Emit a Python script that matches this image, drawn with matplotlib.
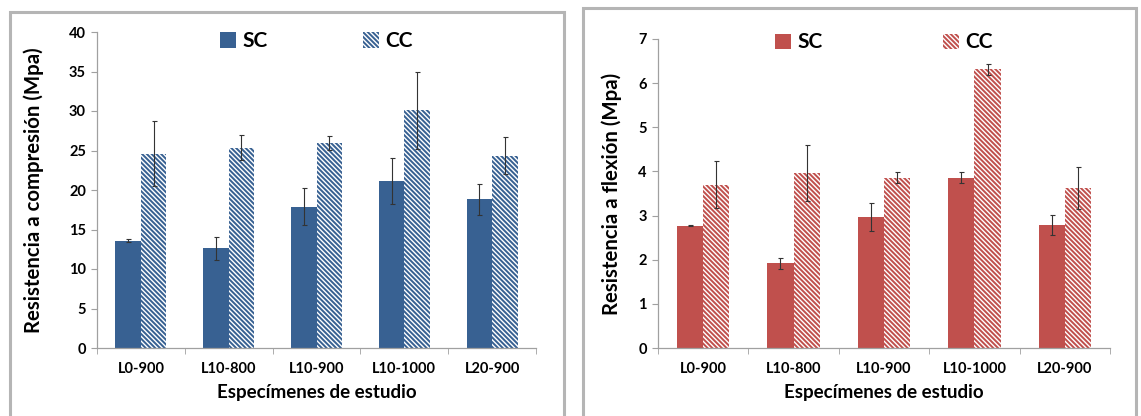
import numpy as np
import matplotlib
matplotlib.use('Agg')
from matplotlib import pyplot as plt
from matplotlib.patches import Rectangle, Patch

plt.rcParams['font.family'] = ['Lato', 'DejaVu Sans']
plt.rcParams['font.weight'] = 'bold'
plt.rcParams['axes.labelweight'] = 'bold'
plt.rcParams['hatch.linewidth'] = 1.0

especimenes = ['L0-900', 'L10-800', 'L10-900', 'L10-1000', 'L20-900']

# compresión (Mpa)
comp_sc = [13.6, 12.65, 17.9, 21.1, 18.8]
comp_sc_err = [0.15, 1.45, 2.35, 2.9, 1.95]
comp_cc = [24.6, 25.35, 25.95, 30.1, 24.35]
comp_cc_err = [4.1, 1.55, 0.9, 4.85, 2.3]

# flexión (Mpa)
flex_sc = [2.77, 1.92, 2.96, 3.86, 2.79]
flex_sc_err = [0.01, 0.12, 0.32, 0.13, 0.23]
flex_cc = [3.70, 3.97, 3.86, 6.31, 3.63]
flex_cc_err = [0.53, 0.64, 0.13, 0.12, 0.48]

azul = '#386192'
rojo = '#C0504D'
rayado = '\\' * 7

fig = plt.figure(figsize=(11.41, 4.16), dpi=100)

# marcos grises de cada panel
for x0, y0, x1 in [(9.5, 11.5, 564), (582.5, 7.5, 1136)]:
    fig.add_artist(Rectangle((x0 / 1141, -0.05), (x1 - x0) / 1141, 1.05 - y0 / 416,
                             transform=fig.transFigure, fill=False,
                             edgecolor='#b5b5b5', linewidth=2.2))

ax1 = fig.add_axes([97 / 1141, 68 / 416, 439 / 1141, 316 / 416])
ax2 = fig.add_axes([658 / 1141, 68 / 416, 452 / 1141, 309 / 416])


def grafico(ax, sc, sc_err, cc, cc_err, color, ymax, ylabel, ypad,
            colspace, ley_y):
    x = np.arange(len(especimenes))
    w = 0.29
    ax.bar(x - w / 2, sc, w, color=color, label='SC')
    ax.bar(x + w / 2, cc, w, color=color, edgecolor='white', linewidth=0,
           hatch=rayado, label='CC')
    ax.errorbar(x - w / 2, sc, yerr=sc_err, fmt='none', ecolor='#333333',
                elinewidth=0.8, capsize=1.8, capthick=0.8)
    ax.errorbar(x + w / 2, cc, yerr=cc_err, fmt='none', ecolor='#333333',
                elinewidth=0.8, capsize=1.8, capthick=0.8)

    ax.set_xlim(-0.5, len(especimenes) - 0.5)
    ax.set_ylim(0, ymax)
    ax.set_xticks(x)
    ax.set_xticklabels(especimenes, fontweight='bold')
    ax.set_xticks(np.arange(len(especimenes) + 1) - 0.5, minor=True)
    ax.tick_params(axis='x', which='major', length=0, pad=10, labelsize=10.5)
    ax.tick_params(axis='x', which='minor', length=4, color='#a0a0a0')
    ax.tick_params(axis='y', length=4, color='#a0a0a0', labelsize=10.5, pad=4)
    for t in ax.get_yticklabels():
        t.set_fontweight('bold')
    for s in ['top', 'right']:
        ax.spines[s].set_visible(False)
    for s in ['left', 'bottom']:
        ax.spines[s].set_color('#a0a0a0')
        ax.spines[s].set_linewidth(0.9)

    ax.set_xlabel('Especímenes de estudio', fontsize=13.5, fontweight='bold',
                  labelpad=6)
    ax.set_ylabel(ylabel, fontsize=14.7, fontweight='bold', labelpad=ypad)

    handles = [Patch(facecolor=color, label='SC'),
               Patch(facecolor=color, edgecolor='white', linewidth=0,
                     hatch=rayado, label='CC')]
    ax.legend(handles=handles, loc='upper center', bbox_to_anchor=(0.5, ley_y),
              ncol=2, frameon=False, prop={'size': 15, 'weight': 'bold'},
              handlelength=0.75, handleheight=0.75, handletextpad=0.3,
              columnspacing=colspace, borderaxespad=0.1)


grafico(ax1, comp_sc, comp_sc_err, comp_cc, comp_cc_err, azul, 40,
        'Resistencia a compresión (Mpa)', 18, 4.6, 1.035)
grafico(ax2, flex_sc, flex_sc_err, flex_cc, flex_cc_err, rojo, 7,
        'Resistencia a flexión (Mpa)', 12, 5.8, 1.055)

fig.savefig('out.png', dpi=100)
